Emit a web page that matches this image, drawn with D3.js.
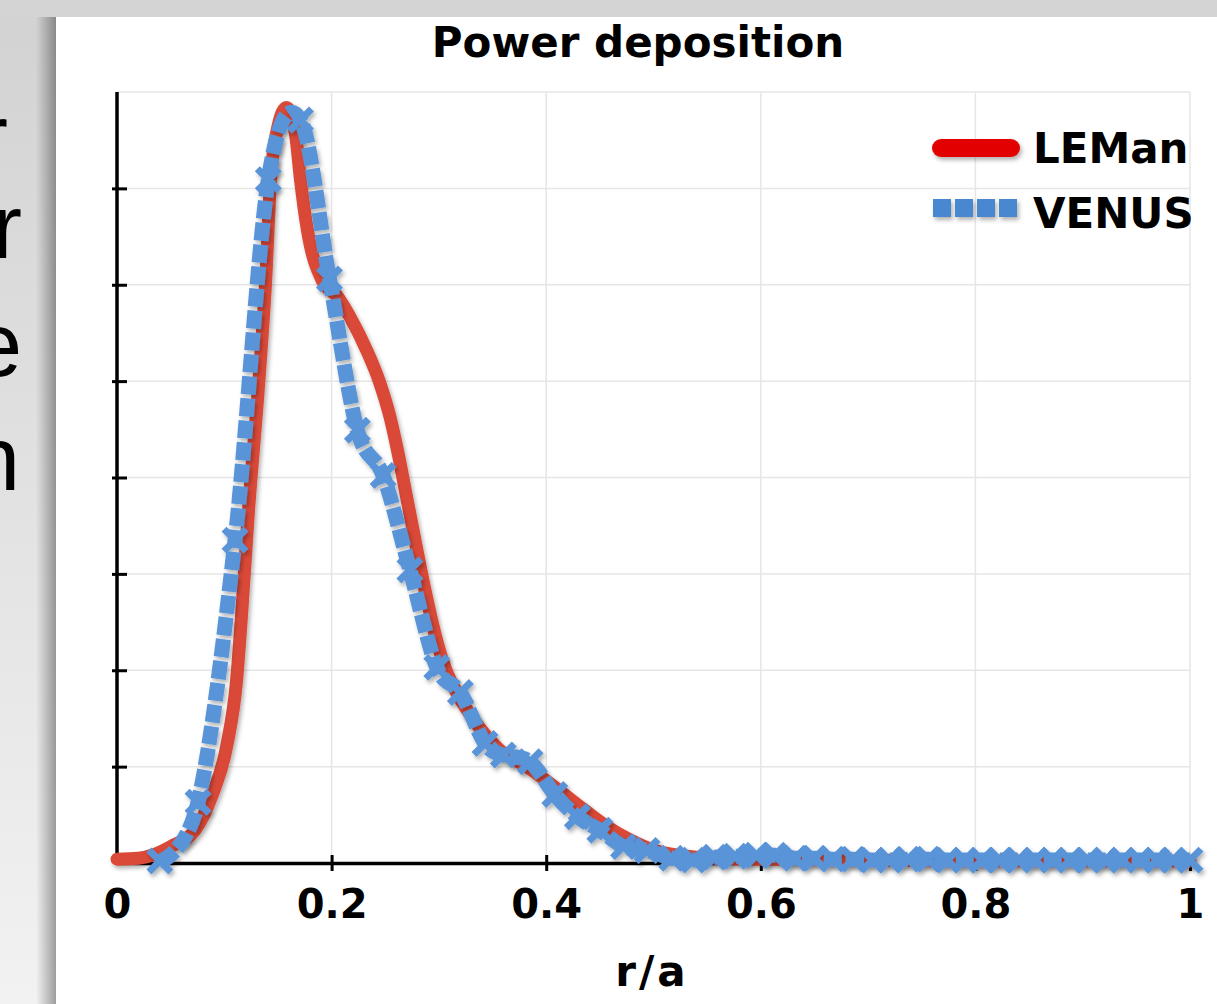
<!DOCTYPE html>
<html>
<head>
<meta charset="utf-8">
<script src="https://cdn.jsdelivr.net/npm/d3@7"></script>
<style>
  html, body { margin: 0; padding: 0; background: #d4d4d4; }
  svg { display: block; }
</style>
</head>
<body>
<svg></svg>
<script>
// LEMan (red, solid)
var lemanR = [0, 0.02, 0.035, 0.05, 0.0727, 0.0882, 0.1022, 0.1115, 0.1162, 0.1224, 0.1323, 0.1386, 0.1432, 0.150, 0.158, 0.1665, 0.171, 0.1774, 0.191, 0.206, 0.217, 0.2327, 0.245, 0.2544, 0.262, 0.269, 0.276, 0.283, 0.290, 0.297, 0.305, 0.316, 0.331, 0.357, 0.382, 0.4066, 0.4345, 0.4578, 0.478, 0.501, 0.531, 0.56, 0.6, 0.7, 0.8, 0.9, 1.0];
var lemanP = [0.04, 0.05, 0.09, 0.17, 0.34, 0.69, 1.21, 1.90, 2.59, 3.63, 5.01, 6.05, 7.09, 7.64, 7.84, 7.55, 7.09, 6.57, 6.05, 5.87, 5.67, 5.32, 4.98, 4.63, 4.25, 3.85, 3.45, 3.05, 2.68, 2.35, 2.05, 1.78, 1.51, 1.17, 1.00, 0.80, 0.56, 0.37, 0.24, 0.13, 0.07, 0.05, 0.04, 0.03, 0.02, 0.02, 0.02];

// VENUS (blue, dotted with x markers)
var venusR = [0.040, 0.0755, 0.110, 0.141, 0.171, 0.198, 0.224, 0.248, 0.273, 0.298, 0.320, 0.343, 0.360, 0.385, 0.408, 0.429, 0.450, 0.472, 0.494, 0.517, 0.537, 0.557, 0.576, 0.596, 0.613, 0.632, 0.650, 0.667, 0.686, 0.704, 0.720, 0.737, 0.756, 0.774, 0.790, 0.806, 0.823, 0.840, 0.856, 0.872, 0.888, 0.905, 0.921, 0.937, 0.953, 0.969, 0.984, 1.000];
var venusP = [0.02, 0.63, 3.35, 7.09, 7.71, 6.06, 4.49, 4.02, 3.04, 2.03, 1.77, 1.24, 1.12, 1.05, 0.71, 0.48, 0.34, 0.17, 0.13, 0.05, 0.03, 0.06, 0.07, 0.08, 0.08, 0.05, 0.05, 0.04, 0.04, 0.03, 0.03, 0.04, 0.04, 0.03, 0.03, 0.03, 0.03, 0.03, 0.03, 0.03, 0.03, 0.03, 0.03, 0.03, 0.03, 0.03, 0.03, 0.03];

var xTicks = [0, 0.2, 0.4, 0.6, 0.8, 1];
var xTickLabels = ['0', '0.2', '0.4', '0.6', '0.8', '1'];
var yTicks = [1, 2, 3, 4, 5, 6, 7, 8];
var seriesNames = ['LEMan', 'VENUS'];

var W = 1217, H = 1004;
var font = '"DejaVu Sans", Verdana, sans-serif';
var red = '#da4a38', blue = '#5a94d8';

var svg = d3.select('svg')
    .attr('width', W)
    .attr('height', H);

var defs = svg.append('defs');

var bg = defs.append('linearGradient')
    .attr('id', 'bg')
    .attr('x1', 0).attr('y1', 0).attr('x2', 0).attr('y2', 1);
bg.append('stop').attr('offset', '0%').attr('stop-color', '#d2d2d2');
bg.append('stop').attr('offset', '100%').attr('stop-color', '#f2f2f2');

var side = defs.append('linearGradient')
    .attr('id', 'side')
    .attr('x1', 0).attr('y1', 0).attr('x2', 1).attr('y2', 0);
side.append('stop').attr('offset', '0%').attr('stop-color', '#000').attr('stop-opacity', 0);
side.append('stop').attr('offset', '100%').attr('stop-color', '#000').attr('stop-opacity', 0.35);

var sh = defs.append('filter')
    .attr('id', 'shadow')
    .attr('filterUnits', 'userSpaceOnUse')
    .attr('x', 0).attr('y', 0).attr('width', W).attr('height', H);
sh.append('feDropShadow')
    .attr('dx', 2).attr('dy', 3)
    .attr('stdDeviation', 2)
    .attr('flood-color', '#000')
    .attr('flood-opacity', 0.3);

// background and slide fragments
svg.append('rect').attr('width', W).attr('height', H).attr('fill', 'url(#bg)');
svg.append('rect').attr('x', 0).attr('y', 0).attr('width', W).attr('height', 17).attr('fill', '#d4d4d4');

var frag = svg.append('g')
    .style('font-family', 'Arial, "Liberation Sans", sans-serif')
    .style('font-size', '90px')
    .attr('fill', '#000')
    .attr('text-anchor', 'end');
frag.append('text').attr('x', 8).attr('y', 168).text('r');
frag.append('text').attr('x', 22).attr('y', 258).text('r');
frag.append('text').attr('x', 22).attr('y', 376).text('e');
frag.append('text').attr('x', 20).attr('y', 490).text('n');

svg.append('rect').attr('x', 36).attr('y', 17).attr('width', 20).attr('height', H).attr('fill', 'url(#side)');
svg.append('rect').attr('x', 56).attr('y', 17).attr('width', W - 56).attr('height', H - 17).attr('fill', '#fff');

var x = d3.scaleLinear().domain([0, 1]).range([117, 1190]);
var y = d3.scaleLinear().domain([0, 8]).range([863, 92]);

// grid
var grid = svg.append('g').attr('stroke', '#e6e6e6').attr('stroke-width', 1.5);
grid.selectAll('.gy').data(yTicks).enter().append('line')
    .attr('x1', x(0)).attr('x2', x(1))
    .attr('y1', function (d) { return y(d); })
    .attr('y2', function (d) { return y(d); });
grid.selectAll('.gx').data(xTicks.slice(1)).enter().append('line')
    .attr('y1', y(0)).attr('y2', y(8))
    .attr('x1', function (d) { return x(d); })
    .attr('x2', function (d) { return x(d); });

// axes
var xAxis = svg.append('g')
    .attr('transform', 'translate(0,' + y(0) + ')')
    .call(d3.axisBottom(x)
        .tickValues(xTicks)
        .tickFormat(function (d, i) { return xTickLabels[i]; })
        .tickSizeOuter(0));
xAxis.select('.domain').attr('stroke', '#000').attr('stroke-width', 3.5);
xAxis.selectAll('.tick line').attr('stroke', '#000').attr('stroke-width', 3).attr('y1', -8).attr('y2', 8)
    .filter(function (d) { return d === 0; }).remove();
xAxis.selectAll('.tick text')
    .attr('y', 55).attr('dy', 0)
    .attr('fill', '#000')
    .style('font-family', font)
    .style('font-weight', 'bold')
    .style('font-size', '40px');

var yAxis = svg.append('g')
    .attr('transform', 'translate(' + x(0) + ',0)')
    .call(d3.axisLeft(y).tickValues(yTicks.slice(0, 7)).tickFormat('').tickSizeOuter(0));
yAxis.select('.domain').attr('stroke', '#000').attr('stroke-width', 3.5)
    .attr('d', 'M0,' + y(0) + 'V' + y(8));
yAxis.selectAll('.tick line').attr('stroke', '#000').attr('stroke-width', 3).attr('x1', -5).attr('x2', 10);

// series
var lemanData = lemanR.map(function (r, i) { return [r, lemanP[i]]; });
var venusData = venusR.map(function (r, i) { return [r, venusP[i]]; });

var lemanLine = d3.line()
    .x(function (d) { return x(d[0]); })
    .y(function (d) { return y(d[1]); })
    .curve(d3.curveMonotoneX);

var venusLine = d3.line()
    .x(function (d) { return x(d[0]); })
    .y(function (d) { return y(d[1]); })
    .curve(d3.curveCatmullRom.alpha(0));

svg.append('path')
    .datum(lemanData)
    .attr('d', lemanLine)
    .attr('fill', 'none')
    .attr('stroke', red)
    .attr('stroke-width', 13)
    .attr('stroke-linecap', 'round')
    .attr('stroke-linejoin', 'round')
    .style('filter', 'url(#shadow)');

var vg = svg.append('g').style('filter', 'url(#shadow)');
vg.append('path')
    .datum(venusData)
    .attr('d', venusLine)
    .attr('fill', 'none')
    .attr('stroke', blue)
    .attr('stroke-width', 15)
    .attr('stroke-dasharray', '18 4');

var s = 11;
vg.selectAll('.mk').data(venusData).enter().append('path')
    .attr('d', function (d) {
        var cx = x(d[0]), cy = y(d[1]);
        return 'M' + (cx - s) + ',' + (cy - s) + 'L' + (cx + s) + ',' + (cy + s) +
            'M' + (cx - s) + ',' + (cy + s) + 'L' + (cx + s) + ',' + (cy - s);
    })
    .attr('stroke', blue)
    .attr('stroke-width', 7)
    .attr('fill', 'none');

// title and axis label
svg.append('text')
    .attr('x', 638).attr('y', 57)
    .attr('text-anchor', 'middle')
    .style('font-family', font).style('font-weight', 'bold').style('font-size', '42px')
    .text('Power deposition');

svg.append('text')
    .attr('x', 652).attr('y', 986)
    .attr('text-anchor', 'middle')
    .style('font-family', font).style('font-weight', 'bold').style('font-size', '42px')
    .style('letter-spacing', '3px')
    .text('r/a');

// legend
var lg = svg.append('g').style('filter', 'url(#shadow)');
lg.append('rect')
    .attr('x', 932).attr('y', 139).attr('width', 88).attr('height', 18)
    .attr('rx', 9).attr('ry', 9)
    .attr('fill', '#e30000');
lg.selectAll('.sq').data([0, 1, 2, 3]).enter().append('rect')
    .attr('x', function (d) { return 933 + d * 22; })
    .attr('y', 199).attr('width', 18).attr('height', 18)
    .attr('fill', '#4a88d0');
svg.selectAll('.lt').data(seriesNames).enter().append('text')
    .attr('x', 1033)
    .attr('y', function (d, i) { return 163 + i * 65; })
    .style('font-family', font).style('font-weight', 'bold').style('font-size', '42px')
    .text(function (d) { return d; });
</script>
</body>
</html>
